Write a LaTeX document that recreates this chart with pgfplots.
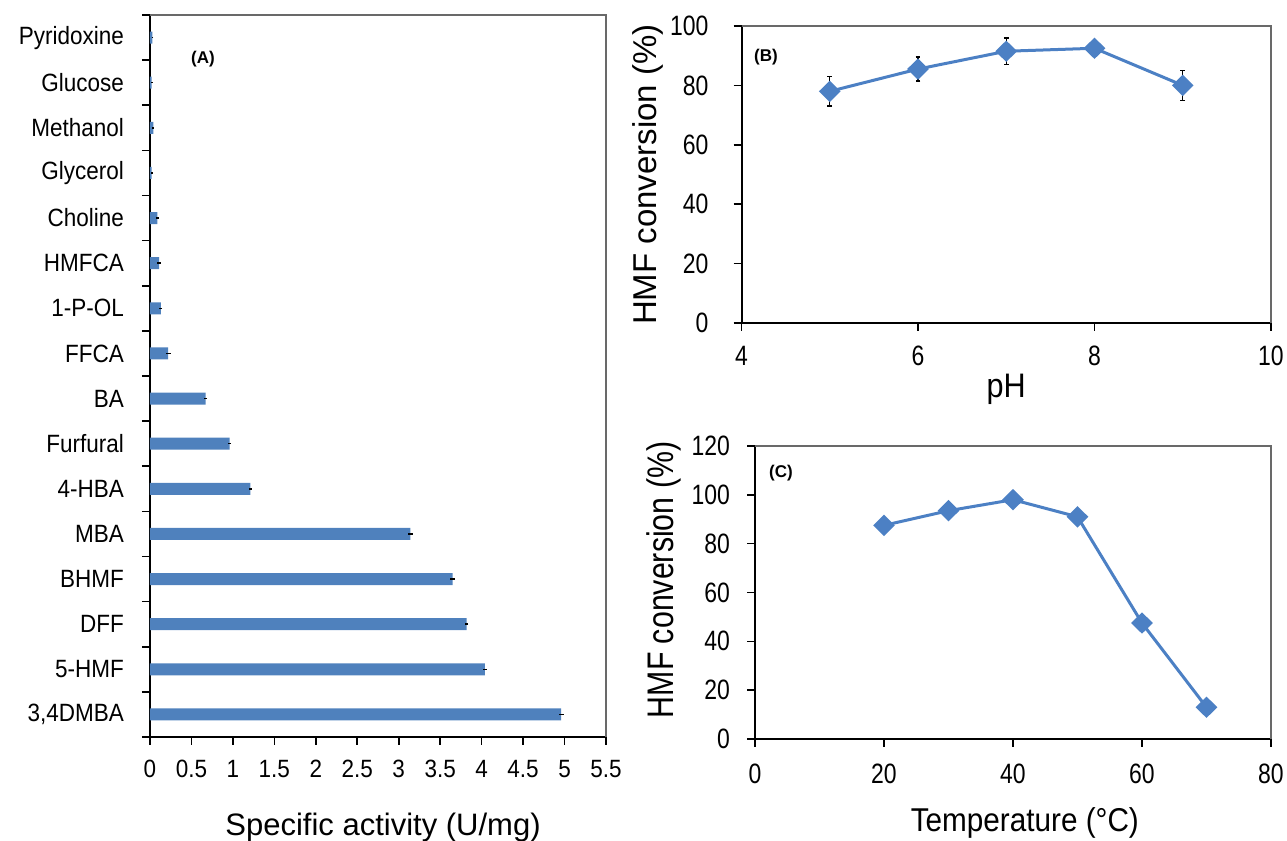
\documentclass[border=0pt]{standalone}
\usepackage{fontspec}
\setmainfont{Liberation Sans}
\newfontfamily\nfont{Liberation Sans}[FakeStretch=0.82]
\newfontfamily\mfont{Liberation Sans}[FakeStretch=0.9]
\usepackage{pgfplots}
\pgfplotsset{compat=1.18}
\definecolor{barblue}{RGB}{79,129,189}
\definecolor{lineblue}{RGB}{76,128,196}
\definecolor{framegray}{RGB}{105,105,105}

\begin{document}
\begin{tikzpicture}
\useasboundingbox (0,0) rectangle (643.5pt,420.5pt);
\pgfplotsset{
  panel/.style={
    scale only axis,
    axis x line*=bottom, axis y line*=left,
    tick align=outside,
    axis line style={line width=1pt,black},
    major tick style={line width=0.8pt,black},
    major tick length=4pt,
    /pgf/number format/assume math mode=true,
    clip=false,
  },
  dmark/.style={
    color=lineblue, line width=1.5pt,
    mark=diamond*, mark size=4.3pt,
    mark options={xscale=1.35, fill=lineblue, draw=lineblue},
  },
}

% ---------- (A) specific activity ----------
\begin{axis}[panel,
  at={(75pt,52pt)}, anchor=south west, width=228pt, height=361pt,
  xbar, bar width=6pt,
  xmin=0, xmax=5.5,
  xtick={0,0.5,1,1.5,2,2.5,3,3.5,4,4.5,5,5.5},
  ymin=0.5, ymax=16.5,
  ytick={0.5,1.5,2.5,3.5,4.5,5.5,6.5,7.5,8.5,9.5,10.5,11.5,12.5,13.5,14.5,15.5,16.5},
  yticklabels={},
  extra y ticks={1,2,3,4,5,6,7,8,9,10,11,12,13,14,15,16},
  extra y tick labels={{3,4DMBA},5-HMF,DFF,BHMF,MBA,4-HBA,Furfural,BA,FFCA,1-P-OL,HMFCA,Choline,Glycerol,Methanol,Glucose,Pyridoxine},
  extra y tick style={major tick length=0pt,
    yticklabel style={font=\mfont\fontsize{12.5}{14}\selectfont, xshift=-9.5pt}},
  xticklabel style={font=\mfont\fontsize{12.5}{14}\selectfont, yshift=-4pt},
  xlabel={Specific activity (U/mg)},
  xlabel style={at={(axis description cs:0.511,-0.136)}, anchor=base,
    font=\fontsize{15.5}{18}\selectfont},
]
\addplot[fill=barblue, draw=none,
  error bars/.cd, x dir=both, x explicit,
  error bar style={draw=black, line width=0.8pt}, error mark=none]
  coordinates {
  (4.96,1) +- (0.03,0)
  (4.04,2) +- (0.02,0)
  (3.82,3) +- (0.02,0)
  (3.65,4) +- (0.03,0)
  (3.14,5) +- (0.03,0)
  (1.21,6) +- (0.02,0)
  (0.96,7) +- (0.02,0)
  (0.67,8) +- (0.02,0)
  (0.22,9) +- (0.03,0)
  (0.13,10) +- (0.02,0)
  (0.11,11) +- (0.02,0)
  (0.09,12) +- (0.02,0)
  (0.02,13) +- (0.01,0)
  (0.04,14) +- (0.01,0)
  (0.02,15) +- (0.01,0)
  (0.03,16) +- (0.01,0)
  };
\draw[framegray, line width=1pt] (rel axis cs:0,1) -- (rel axis cs:1,1) -- (rel axis cs:1,0);
\end{axis}

% ---------- (B) pH ----------
\begin{axis}[panel,
  at={(370.75pt,259pt)}, anchor=south west, width=264.75pt, height=148.5pt,
  xmin=4, xmax=10, xtick={4,6,8,10},
  ymin=0, ymax=100, ytick={0,20,40,60,80,100},
  ticklabel style={font=\nfont\fontsize{14}{16}\selectfont},
  xticklabel style={yshift=-4pt},
  yticklabel style={xshift=-9pt},
  xlabel={pH},
  xlabel style={at={(axis description cs:0.5,-0.2492)}, anchor=base,
    font=\mfont\fontsize{17}{19}\selectfont},
  ylabel={HMF conversion (\%)},
  ylabel style={at={(axis description cs:-0.1596,0.5)}, anchor=base,
    font=\fontsize{16.5}{19}\selectfont},
]
\addplot[dmark,
  error bars/.cd, y dir=both, y explicit,
  error bar style={draw=black, line width=0.7pt},
  error mark options={rotate=90, mark size=1.2pt, black, line width=0.7pt}]
  coordinates {
  (5,78) +- (0,5)
  (6,85.5) +- (0,4)
  (7,91.5) +- (0,4.5)
  (8,92.5) +- (0,1.5)
  (9,80) +- (0,5)
  };
\draw[framegray, line width=1pt] (rel axis cs:0,1) -- (rel axis cs:1,1) -- (rel axis cs:1,0);
\end{axis}

% ---------- (C) temperature ----------
\begin{axis}[panel,
  at={(377.5pt,51pt)}, anchor=south west, width=258pt, height=146.5pt,
  xmin=0, xmax=80, xtick={0,20,40,60,80},
  ymin=0, ymax=120, ytick={0,20,40,60,80,100,120},
  ticklabel style={font=\nfont\fontsize{14}{16}\selectfont},
  xticklabel style={yshift=-5pt},
  yticklabel style={xshift=-5pt},
  xlabel={Temperature (°C)},
  xlabel style={at={(axis description cs:0.523,-0.3174)}, anchor=base,
    font=\mfont\fontsize{16.5}{19}\selectfont},
  ylabel={HMF conversion (\%)},
  ylabel style={at={(axis description cs:-0.1589,0.543)}, anchor=base,
    font=\nfont\fontsize{18.5}{21}\selectfont},
]
\addplot[dmark] coordinates {
  (20,87.5) (30,93.5) (40,98) (50,91) (60,47.5) (70,13)
  };
\draw[framegray, line width=1pt] (rel axis cs:0,1) -- (rel axis cs:1,1) -- (rel axis cs:1,0);
\end{axis}

\node[font=\bfseries\fontsize{8.5}{10}\selectfont] at (101.5pt,391pt) {(A)};
\node[font=\bfseries\fontsize{8.5}{10}\selectfont] at (383pt,392pt) {(B)};
\node[font=\bfseries\fontsize{8.5}{10}\selectfont] at (390.5pt,184pt) {(C)};
\end{tikzpicture}
\end{document}
